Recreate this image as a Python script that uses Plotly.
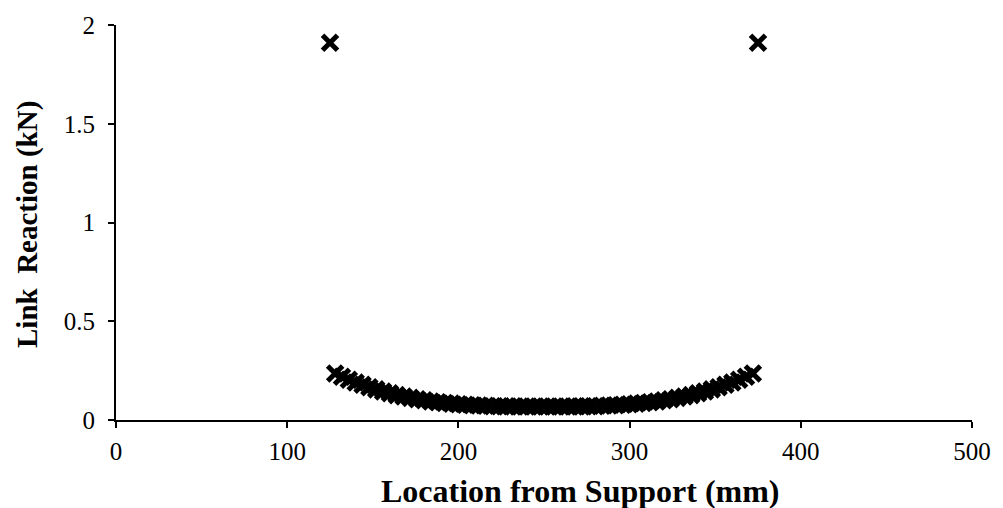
import plotly.graph_objects as go

# Link reactions along the beam (location in mm, reaction in kN)
end_links_x = [125, 375]
end_links_y = [1.91, 1.91]

inner_links_x = [
    128, 132, 136, 140, 144, 148, 152, 156, 160, 164, 168, 172, 176, 180, 184, 188,
    192, 196, 200, 204, 208, 212, 216, 220, 224, 228, 232, 236, 240, 244, 248,
    252, 256, 260, 264, 268, 272, 276, 280, 284, 288, 292, 296, 300, 304, 308,
    312, 316, 320, 324, 328, 332, 336, 340, 344, 348, 352, 356, 360, 364, 368, 372,
]
inner_links_y = [
    0.235, 0.219, 0.204, 0.190, 0.178, 0.166, 0.155, 0.144, 0.135, 0.126, 0.119,
    0.112, 0.105, 0.100, 0.094, 0.090, 0.086, 0.083, 0.080, 0.077, 0.075, 0.073,
    0.072, 0.070, 0.070, 0.069, 0.069, 0.068, 0.068, 0.068, 0.068,
    0.068, 0.068, 0.068, 0.068, 0.069, 0.069, 0.070, 0.070, 0.072, 0.073, 0.075,
    0.077, 0.080, 0.083, 0.086, 0.090, 0.094, 0.100, 0.105, 0.112, 0.119, 0.126,
    0.135, 0.144, 0.155, 0.166, 0.178, 0.190, 0.204, 0.219, 0.235,
]

x_ticks = [0, 100, 200, 300, 400, 500]
y_ticks = [0, 0.5, 1, 1.5, 2]
y_tick_text = ["0", "0.5", "1", "1.5", "2"]

font_family = "Liberation Serif, Times New Roman, serif"
marker_style = dict(symbol="x-thin", size=15, color="black",
                    line=dict(width=5, color="black"))

fig = go.Figure()
fig.add_trace(go.Scatter(x=inner_links_x, y=inner_links_y, mode="markers",
                         marker=marker_style, showlegend=False))
fig.add_trace(go.Scatter(x=end_links_x, y=end_links_y, mode="markers",
                         marker=marker_style, showlegend=False))

axis_common = dict(
    showgrid=False, zeroline=False, showline=True, linecolor="black", linewidth=2,
    ticks="outside", ticklen=6, tickwidth=2, tickcolor="black",
    tickfont=dict(family=font_family, size=25, color="black"),
)

fig.update_layout(
    width=1003, height=508,
    margin=dict(l=116, r=26, t=20, b=88),
    paper_bgcolor="white", plot_bgcolor="white",
    xaxis=dict(range=[0, 500], tickvals=x_ticks, ticklabelstandoff=2, **axis_common),
    yaxis=dict(range=[0, 2], tickvals=y_ticks, ticktext=y_tick_text,
               ticklabelstandoff=8, **axis_common),
    font=dict(family=font_family, color="black"),
    annotations=[
        dict(text="<b>Location from Support (mm)</b>", xref="paper", yref="paper",
             x=(583 - 116) / 861, y=-72 / 400, xanchor="center", yanchor="middle",
             showarrow=False, font=dict(family=font_family, size=32, color="black")),
        dict(text="<b>Link  Reaction (kN)</b>", xref="paper", yref="paper",
             x=-89 / 861, y=(420 - 222) / 400, xanchor="center", yanchor="middle",
             textangle=-90, showarrow=False,
             font=dict(family=font_family, size=29, color="black")),
    ],
)

fig.write_html("out.html")
